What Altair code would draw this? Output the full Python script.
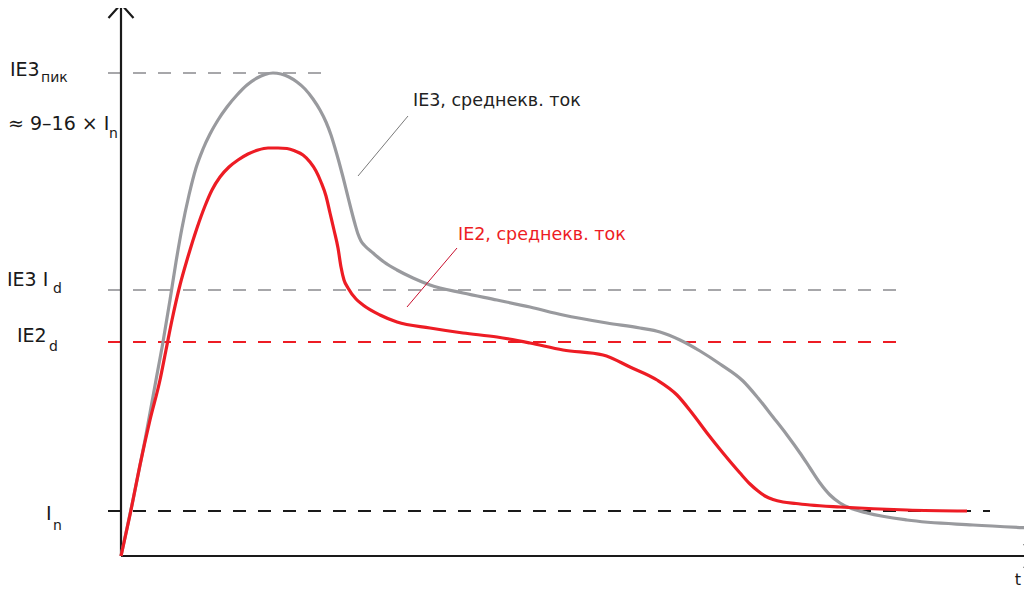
import altair as alt
import pandas as pd

# ---- data (x: time units, y: current units; origin at axes crossing) ----
ie3_t = [0, 12, 24, 35, 42, 49, 55, 61, 68, 75, 82, 89, 97, 106, 116, 126, 136, 144, 152, 160,
         168, 176, 184, 192, 199, 205, 210, 214, 218, 222, 226, 230, 234, 237, 240, 244, 252,
         263, 276, 292, 309, 342, 376, 409, 442, 486, 519, 539, 559, 579, 599, 622, 637, 652,
         666, 679, 689, 699, 709, 719, 732, 746, 786, 852, 909]
ie3_i = [0, 56, 116, 176, 214, 256, 294, 328, 361, 388, 407, 422, 436, 449, 461, 471, 478, 481.5,
         483, 482, 479, 474, 467, 457, 446, 434, 421, 408, 394, 379, 363, 347, 332, 322, 315, 310,
         303, 294, 286, 278, 271, 263, 256, 249, 241, 233, 228, 224, 216, 205, 192, 175, 158, 139,
         121, 103, 88, 73, 61, 53, 47, 43, 36, 31, 28]

ie2_t = [0, 10, 19, 29, 39, 45, 51, 59, 66, 76, 84, 91, 99, 108, 117, 127, 137, 147, 157, 166,
         174, 182, 189, 195, 200, 205, 209, 213, 217, 220, 223, 227, 235, 242, 259, 276, 309, 342,
         376, 409, 442, 482, 509, 536, 556, 571, 586, 602, 619, 629, 637, 644, 652, 662, 675, 689,
         719, 786, 846]
ie2_i = [0, 46, 91, 136, 176, 206, 236, 271, 296, 328, 350, 366, 379, 389, 396, 402, 406, 408,
         408, 407.5, 405, 401, 394, 385, 374, 360, 343, 326, 308, 289, 276, 268, 257, 251, 241, 234,
         228, 223, 219, 213, 206, 201, 189, 176, 161, 143, 123, 103, 83, 72, 65, 60, 56.5, 54, 52.5,
         51, 49, 46, 45]

ref_names = ["IE3 peak", "IE3 Id", "IE2d", "In"]
ref_levels = [483, 266, 214, 45]
ref_start = [-13, -13, -13, -13]
ref_end = [209, 784, 784, 869]
ref_colors = ["#a7a7aa", "#a7a7aa", "#ed1c24", "#1a1a1a"]

label_texts = ["IE3", "≈ 9–16 × I", "IE3 I", "IE2", "I"]
label_x = [-111, -113, -114, -104, -75]
label_y = [486, 432, 276, 220, 42]
sub_texts = ["пик", "n", "d", "d", "n"]
sub_x = [-80, -12, -68, -72, -68]
sub_y = [478, 422, 267, 209, 30]

note_texts = ["IE3, среднекв. ток", "IE2, среднекв. ток"]
note_x = [292, 337]
note_y = [455, 321]
note_colors = ["#222222", "#ed1c24"]
leader_x1 = [287, 336]
leader_y1 = [440, 308]
leader_x2 = [237, 286]
leader_y2 = [380, 249]
leader_colors = ["#7a7a7a", "#c8102e"]

FONT = "DejaVu Sans"
XS = alt.Scale(domain=[-113, 903])
YS = alt.Scale(domain=[-34, 548])


def X(f="x"):
    return alt.X(f + ":Q", scale=XS, axis=None)


def Y(f="y"):
    return alt.Y(f + ":Q", scale=YS, axis=None)


layers = []

# reference dashed lines
for name, lvl, s, e, c in zip(ref_names, ref_levels, ref_start, ref_end, ref_colors):
    df = pd.DataFrame({"x": [s], "x2": [e], "y": [lvl]})
    layers.append(
        alt.Chart(df).mark_rule(color=c, strokeWidth=2, strokeDash=[13, 12]).encode(
            x=X(), x2="x2:Q", y=Y()
        )
    )

# axes
axes_df = pd.DataFrame({"x": [0, 0], "x2": [0, 912], "y": [0, 0], "y2": [551, 0]})
layers.append(
    alt.Chart(axes_df).mark_rule(color="#1a1a1a", strokeWidth=2.2).encode(
        x=X(), x2="x2:Q", y=Y(), y2="y2:Q"
    )
)
arrow_df = pd.DataFrame({
    "x": [-12.5, 0, 12.5, 903, 915, 903],
    "y": [538, 552, 538, 12, 0, -12],
    "g": ["v", "v", "v", "h", "h", "h"],
    "o": [0, 1, 2, 0, 1, 2],
})
layers.append(
    alt.Chart(arrow_df).mark_line(color="#1a1a1a", strokeWidth=2.2).encode(
        x=X(), y=Y(), detail="g:N", order="o:Q"
    )
)

# curves
ie3_df = pd.DataFrame({"x": ie3_t, "y": ie3_i})
ie2_df = pd.DataFrame({"x": ie2_t, "y": ie2_i})
layers.append(
    alt.Chart(ie3_df).mark_line(color="#999a9e", strokeWidth=3.2, interpolate="monotone").encode(
        x=X(), y=Y()
    )
)
layers.append(
    alt.Chart(ie2_df).mark_line(color="#ed1c24", strokeWidth=3.2, interpolate="monotone").encode(
        x=X(), y=Y()
    )
)

# leader lines
for x1, y1, x2, y2, c in zip(leader_x1, leader_y1, leader_x2, leader_y2, leader_colors):
    df = pd.DataFrame({"x": [x1], "x2": [x2], "y": [y1], "y2": [y2]})
    layers.append(
        alt.Chart(df).mark_rule(color=c, strokeWidth=1).encode(
            x=X(), x2="x2:Q", y=Y(), y2="y2:Q"
        )
    )

# labels
lab_df = pd.DataFrame({"x": label_x, "y": label_y, "t": label_texts})
layers.append(
    alt.Chart(lab_df).mark_text(align="left", baseline="middle", font=FONT, fontSize=19,
                                color="#1a1a1a").encode(x=X(), y=Y(), text="t:N")
)
sub_df = pd.DataFrame({"x": sub_x, "y": sub_y, "t": sub_texts})
layers.append(
    alt.Chart(sub_df).mark_text(align="left", baseline="middle", font=FONT, fontSize=14,
                                color="#1a1a1a").encode(x=X(), y=Y(), text="t:N")
)
t_df = pd.DataFrame({"x": [897], "y": [-24], "t": ["t"]})
layers.append(
    alt.Chart(t_df).mark_text(align="center", baseline="middle", font=FONT, fontSize=16,
                              color="#1a1a1a").encode(x=X(), y=Y(), text="t:N")
)
for tx, nx, ny, c in zip(note_texts, note_x, note_y, note_colors):
    df = pd.DataFrame({"x": [nx], "y": [ny], "t": [tx]})
    layers.append(
        alt.Chart(df).mark_text(align="left", baseline="middle", font=FONT, fontSize=17.5,
                                color=c).encode(x=X(), y=Y(), text="t:N")
    )

chart = (
    alt.layer(*layers)
    .properties(width=1016, height=582, padding=0, autosize=alt.AutoSizeParams(type="none"),
                background="white")
    .configure_view(stroke=None)
)

chart.save("out.html", embed_options={"renderer": "svg", "actions": False})
